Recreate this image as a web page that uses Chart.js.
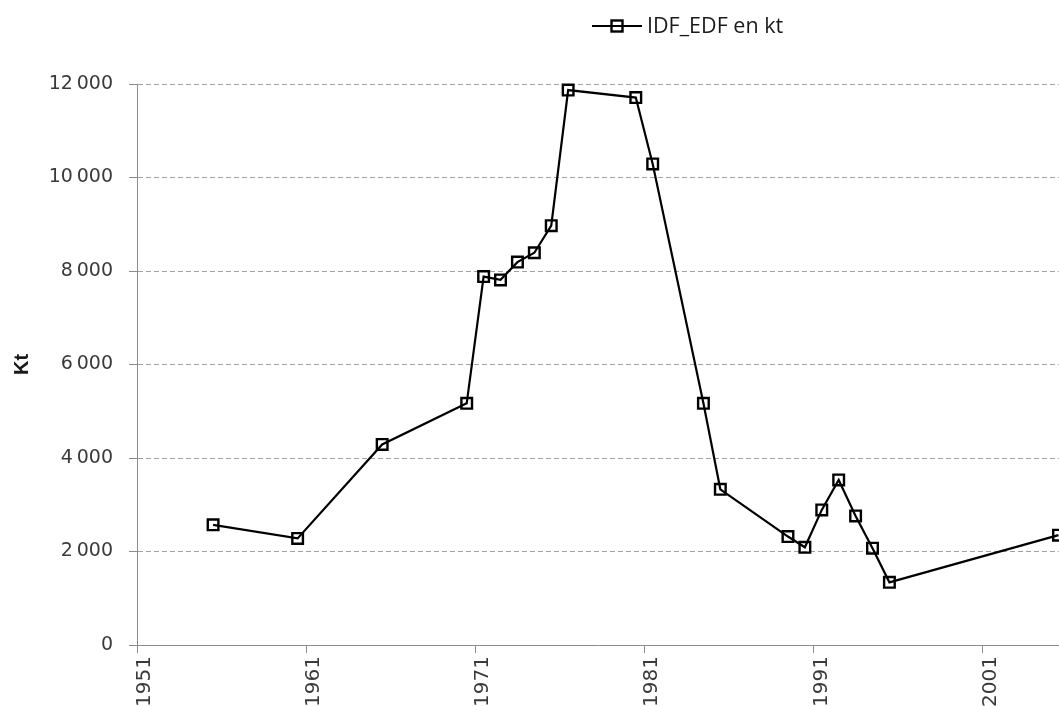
<!DOCTYPE html>
<html>
<head>
<meta charset="utf-8">
<script src="https://cdn.jsdelivr.net/npm/chart.js@4.4.1/dist/chart.umd.min.js"></script>
<style>
  html, body { margin: 0; padding: 0; background: #fff; overflow: hidden; }
  #wrap { position: relative; width: 1059px; height: 706px; }
</style>
</head>
<body>
<div id="wrap"><canvas id="chart"></canvas></div>
<script>
// IDF_EDF en kt
const years = [1955, 1960, 1965, 1970, 1971, 1972, 1973, 1974, 1975, 1976, 1980, 1981,
  1984, 1985, 1989, 1990, 1991, 1992, 1993, 1994, 1995, 2005];
const values = [2570, 2280, 4290, 5170, 7880, 7810, 8190, 8390, 8970, 11870, 11710, 10290,
  5170, 3330, 2320, 2090, 2890, 3530, 2760, 2070, 1340, 2350];
const tickYears = [1951, 1961, 1971, 1981, 1991, 2001];
const seriesLabel = 'IDF_EDF en kt';

// points sit mid-year, tick labels at the start of the year
const HALF = 0.5;

function fmt(n) {
  return String(n).replace(/\B(?=(\d{3})+(?!\d))/g, '\u202f');
}

// legend drawn by hand: line + square marker like the original
const lineLegend = {
  id: 'lineLegend',
  afterDraw(chart) {
    const ctx = chart.ctx;
    const ds = chart.data.datasets[0];
    const y = 26;
    const x0 = 592;
    ctx.save();
    ctx.strokeStyle = ds.borderColor;
    ctx.lineWidth = ds.borderWidth;
    ctx.beginPath();
    ctx.moveTo(x0, y);
    ctx.lineTo(x0 + 50, y);
    ctx.stroke();
    ctx.lineWidth = ds.pointBorderWidth;
    ctx.strokeRect(x0 + 19.5, y - 5.5, 11, 11);
    ctx.fillStyle = '#1a1a1a';
    ctx.font = '21.5px "Open Sans"';
    ctx.textBaseline = 'middle';
    ctx.fillText(ds.label, x0 + 55, y + 1);
    ctx.restore();
  }
};

new Chart(document.getElementById('chart'), {
  type: 'line',
  data: {
    datasets: [{
      label: seriesLabel,
      data: years.map((yr, i) => ({ x: yr, y: values[i] })),
      borderColor: '#000',
      borderWidth: 2.2,
      tension: 0,
      pointStyle: 'rect',
      pointRadius: 7.5,
      pointBorderWidth: 2.4,
      pointBorderColor: '#000',
      pointBackgroundColor: 'rgba(0,0,0,0)',
      clip: false,
    }],
  },
  options: {
    responsive: true,
    maintainAspectRatio: false,
    animation: false,
    layout: { autoPadding: false, padding: { top: 84, right: 0, bottom: 0, left: 0 } },
    plugins: {
      legend: { display: false },
      tooltip: { enabled: false },
    },
    scales: {
      x: {
        type: 'linear',
        min: tickYears[0] - HALF,
        max: 2005.03,
        afterBuildTicks: (scale) => {
          scale.ticks = tickYears.map(v => ({ value: v - HALF }));
        },
        afterFit: (scale) => {
          scale.height = 61;
          scale.paddingLeft = 0;
          scale.paddingRight = 0;
        },
        border: { color: '#8c8c8c', width: 1 },
        grid: { drawOnChartArea: false, tickLength: 8, color: '#8c8c8c' },
        ticks: {
          autoSkip: false,
          minRotation: 90,
          maxRotation: 90,
          labelOffset: 8,
          padding: 3,
          color: '#3a3a3a',
          font: { family: '"DejaVu Sans"', size: 20 },
          callback: (v) => String(Math.round(v + HALF)),
        },
      },
      y: {
        min: 0,
        max: 12000,
        afterFit: (scale) => { scale.width = 137; },
        border: { color: '#8c8c8c', width: 1, dash: [5, 3] },
        grid: {
          color: (c) => (c.tick && c.tick.value === 0 ? 'rgba(0,0,0,0)' : '#a0a0a0'),
          tickColor: '#8c8c8c',
          tickBorderDash: [],
          tickLength: 8,
        },
        ticks: {
          stepSize: 2000,
          padding: 16,
          color: '#3a3a3a',
          font: { family: '"DejaVu Sans"', size: 19 },
          callback: (v) => fmt(v),
        },
        title: {
          display: true,
          text: 'Kt',
          color: '#1a1a1a',
          font: { family: '"Liberation Sans"', size: 20, weight: 'bold' },
          padding: { top: 10, bottom: 0 },
        },
      },
    },
  },
  plugins: [lineLegend],
});
</script>
</body>
</html>
